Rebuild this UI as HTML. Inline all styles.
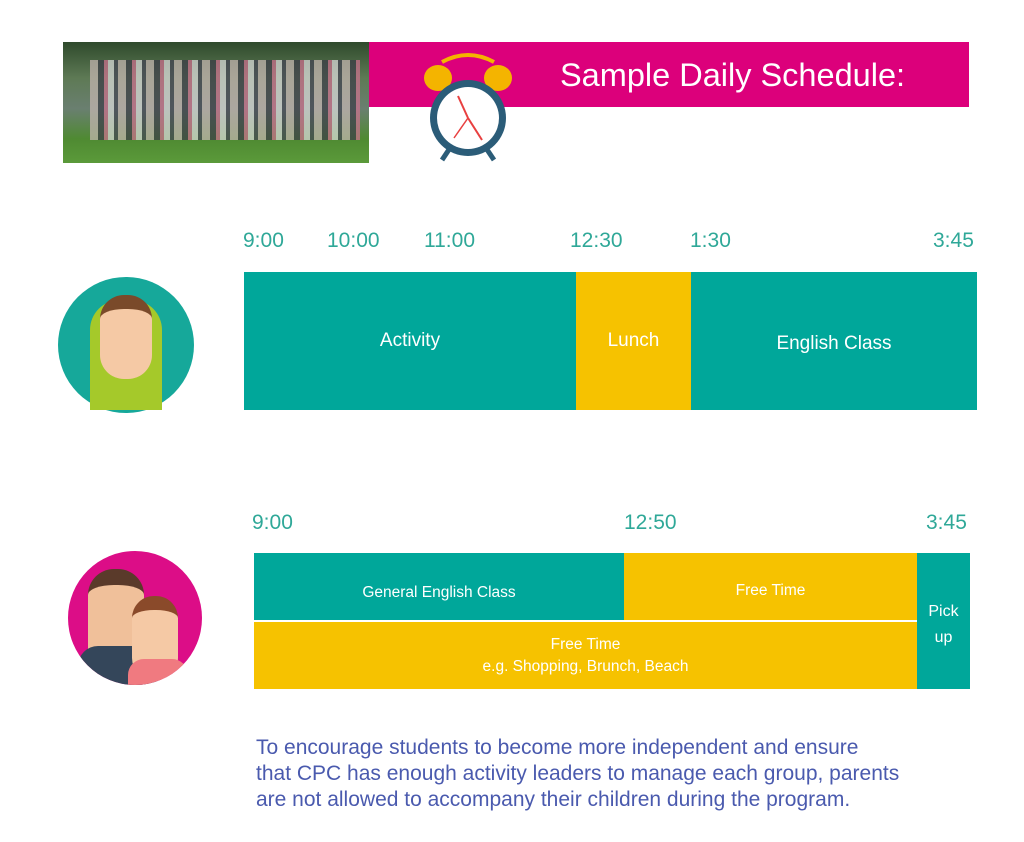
<!DOCTYPE html>
<html><head><style>
body{margin:0;width:1024px;height:842px;background:#fff;position:relative;overflow:hidden;font-family:"Liberation Sans",sans-serif}
.a{position:absolute}
.t{color:#2fa898;font-size:21px}
.w{color:#fff;text-align:center;display:flex;align-items:center;justify-content:center}
</style></head><body>
<div class="a" style="left:63px;top:42px;width:306px;height:121px;background:linear-gradient(180deg,#2f4a2c 0%,#5e7a55 30%,#6a7f70 55%,#4f8a32 80%,#5b9a3a 100%)"></div>
<div class="a" style="left:90px;top:60px;width:270px;height:80px;background:repeating-linear-gradient(90deg,#c9b8b5 0 8px,#3c3c48 8px 14px,#d07090 14px 18px,#e0e0e0 18px 24px,#445 24px 28px);opacity:.7"></div>
<div class="a" style="left:369px;top:42px;width:600px;height:65px;background:#dc007b"></div>
<div class="a" style="left:560px;top:57px;color:#fff;font-size:32.5px">Sample Daily Schedule:</div>
<svg class="a" style="left:420px;top:48px" width="96" height="116">
<path d="M22 14 Q48 0 74 14" stroke="#f4b400" stroke-width="4" fill="none"/>
<ellipse cx="18" cy="30" rx="14" ry="13" fill="#f4b400"/><ellipse cx="78" cy="30" rx="14" ry="13" fill="#f4b400"/>
<line x1="30" y1="100" x2="22" y2="112" stroke="#2b5c78" stroke-width="5"/><line x1="66" y1="100" x2="74" y2="112" stroke="#2b5c78" stroke-width="5"/>
<circle cx="48" cy="70" r="38" fill="#2b5c78"/><circle cx="48" cy="70" r="31" fill="#fff"/>
<line x1="48" y1="70" x2="38" y2="48" stroke="#e84040" stroke-width="2"/><line x1="48" y1="70" x2="62" y2="92" stroke="#e84040" stroke-width="2"/><line x1="48" y1="70" x2="34" y2="90" stroke="#e84040" stroke-width="1.5"/>
</svg>
<div class="a t" style="left:243px;top:229px">9:00</div>
<div class="a t" style="left:327px;top:229px">10:00</div>
<div class="a t" style="left:424px;top:229px">11:00</div>
<div class="a t" style="left:570px;top:229px">12:30</div>
<div class="a t" style="left:690px;top:229px">1:30</div>
<div class="a t" style="left:933px;top:229px">3:45</div>
<div class="a" style="left:58px;top:277px;width:136px;height:136px;border-radius:50%;background:#16a89a"></div>
<div class="a" style="left:90px;top:300px;width:72px;height:110px;background:#a5c92a;border-radius:30px 30px 0 0"></div>
<div class="a" style="left:100px;top:295px;width:52px;height:70px;background:#f5c9a5;border-radius:24px;border-top:14px solid #7a4a2a"></div>
<div class="a w" style="left:244px;top:272px;width:332px;height:138px;background:#00a79a;font-size:19px">Activity</div>
<div class="a w" style="left:576px;top:272px;width:115px;height:138px;background:#f6c200;font-size:19px">Lunch</div>
<div class="a w" style="left:691px;top:272px;width:286px;height:138px;background:#00a79a;font-size:19px;padding-top:6px;box-sizing:border-box">English Class</div>
<div class="a t" style="left:252px;top:511px">9:00</div>
<div class="a t" style="left:624px;top:511px">12:50</div>
<div class="a t" style="left:926px;top:511px">3:45</div>
<div class="a" style="left:68px;top:551px;width:134px;height:134px;border-radius:50%;background:#dc0d87;overflow:hidden">
<div class="a" style="left:20px;top:18px;width:56px;height:90px;background:#f0c09a;border-radius:26px;border-top:16px solid #5a3a2a"></div>
<div class="a" style="left:10px;top:95px;width:80px;height:50px;background:#34465a;border-radius:20px 20px 0 0"></div>
<div class="a" style="left:64px;top:45px;width:46px;height:70px;background:#f5c9a5;border-radius:22px;border-top:14px solid #8a4a2a"></div>
<div class="a" style="left:60px;top:108px;width:60px;height:40px;background:#f07a80;border-radius:16px 16px 0 0"></div>
</div>
<div class="a w" style="left:254px;top:553px;width:370px;height:67px;background:#00a79a;font-size:15.5px;padding-top:12px;box-sizing:border-box">General English Class</div>
<div class="a w" style="left:624px;top:553px;width:293px;height:67px;background:#f6c200;font-size:15.5px;padding-top:8px;box-sizing:border-box">Free Time</div>
<div class="a w" style="left:254px;top:622px;width:663px;height:67px;background:#f6c200;font-size:15.5px;line-height:22px;flex-direction:column">Free Time<br>e.g. Shopping, Brunch, Beach</div>
<div class="a w" style="left:917px;top:553px;width:53px;height:136px;background:#00a79a;font-size:16px;line-height:26px;flex-direction:column;padding-top:8px;box-sizing:border-box">Pick<br>up</div>
<div class="a" style="left:256px;top:735px;color:#4a5aae;font-size:21px;line-height:26px;white-space:nowrap">To encourage students to become more independent and ensure<br>that CPC has enough activity leaders to manage each group, parents<br>are not allowed to accompany their children during the program.</div>
</body></html>
